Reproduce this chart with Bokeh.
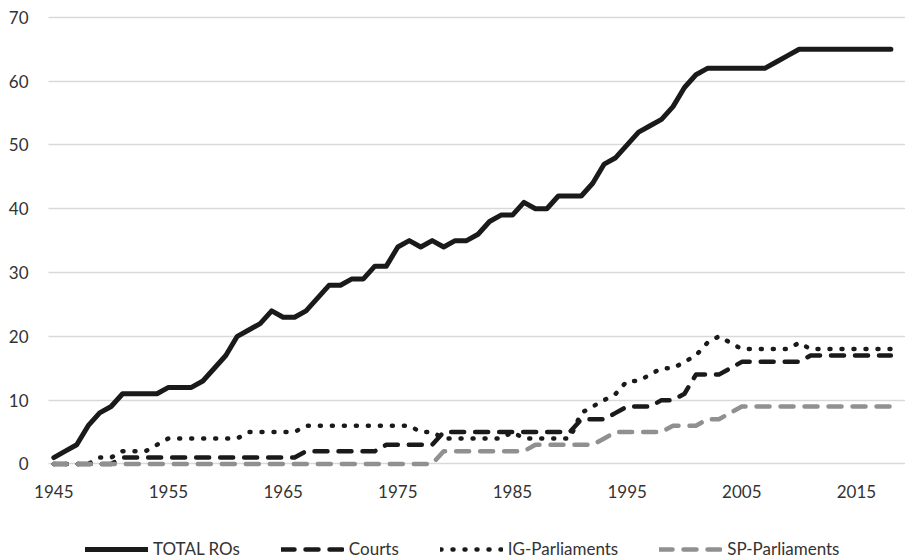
from bokeh.plotting import figure
from bokeh.models import Range1d, FixedTicker, Legend, LegendItem, BoxAnnotation
from bokeh.embed import file_html
from bokeh.resources import INLINE

years = list(range(1945, 2019))

total_ros = [1, 2, 3, 6, 8, 9, 11, 11, 11, 11,
             12, 12, 12, 13, 15, 17, 20, 21, 22, 24,
             23, 23, 24, 26, 28, 28, 29, 29, 31, 31,
             34, 35, 34, 35, 34, 35, 35, 36, 38, 39,
             39, 41, 40, 40, 42, 42, 42, 44, 47, 48,
             50, 52, 53, 54, 56, 59, 61, 62, 62, 62,
             62, 62, 62, 63, 64, 65, 65, 65, 65, 65,
             65, 65, 65, 65]

courts = [0, 0, 0, 0, 0, 0, 1, 1, 1, 1,
          1, 1, 1, 1, 1, 1, 1, 1, 1, 1,
          1, 1, 2, 2, 2, 2, 2, 2, 2, 3,
          3, 3, 3, 3, 5, 5, 5, 5, 5, 5,
          5, 5, 5, 5, 5, 5, 7, 7, 7, 8,
          9, 9, 9, 10, 10, 11, 14, 14, 14, 15,
          16, 16, 16, 16, 16, 16, 17, 17, 17, 17,
          17, 17, 17, 17]

ig_parliaments = [0, 0, 0, 0, 1, 1, 2, 2, 2, 3,
                  4, 4, 4, 4, 4, 4, 4, 5, 5, 5,
                  5, 5, 6, 6, 6, 6, 6, 6, 6, 6,
                  6, 6, 5, 5, 4, 4, 4, 4, 4, 4,
                  5, 4, 4, 4, 4, 4, 8, 9, 10, 11,
                  13, 13, 14, 15, 15, 16, 17, 19, 20, 19,
                  18, 18, 18, 18, 18, 19, 18, 18, 18, 18,
                  18, 18, 18, 18]

sp_parliaments = [0, 0, 0, 0, 0, 0, 0, 0, 0, 0,
                  0, 0, 0, 0, 0, 0, 0, 0, 0, 0,
                  0, 0, 0, 0, 0, 0, 0, 0, 0, 0,
                  0, 0, 0, 0, 2, 2, 2, 2, 2, 2,
                  2, 2, 3, 3, 3, 3, 3, 3, 4, 5,
                  5, 5, 5, 5, 6, 6, 6, 7, 7, 8,
                  9, 9, 9, 9, 9, 9, 9, 9, 9, 9,
                  9, 9, 9, 9]

x_ticks = [1945, 1955, 1965, 1975, 1985, 1995, 2005, 2015]
y_ticks = [0, 10, 20, 30, 40, 50, 60, 70]

FONT = "Lato"
TXT = "#333333"

# frame spans down to the bottom of the figure; the x axis is pinned just
# under the 0 line and the legend sits below it inside the frame
p = figure(width=905, height=558, output_backend="svg", toolbar_location=None,
           x_range=Range1d(1942.968, 2019.275), y_range=Range1d(-14.82, 70.6),
           min_border_left=30, min_border_right=0, min_border_top=13,
           min_border_bottom=0)
p.outline_line_color = None
p.background_fill_color = "white"

for ax in (p.xaxis[0], p.yaxis[0]):
    ax.axis_line_color = None
    ax.major_tick_line_color = None
    ax.minor_tick_line_color = None
    ax.major_tick_out = 0
    ax.major_tick_in = 0
    ax.minor_tick_out = 0
    ax.major_label_text_font = FONT
    ax.major_label_text_font_size = "17px"
    ax.major_label_text_color = TXT
p.xaxis.ticker = FixedTicker(ticks=x_ticks)
p.yaxis.ticker = FixedTicker(ticks=y_ticks)
p.xaxis.fixed_location = -0.6
p.xaxis.major_label_standoff = 17
p.yaxis.major_label_standoff = 2
p.xgrid.visible = False
p.ygrid.grid_line_color = "#d9d9d9"
p.ygrid.grid_line_width = 1.5

# blank strip so the gridlines start just left of the first year
p.add_layout(BoxAnnotation(right=1944.538, fill_color="white", fill_alpha=1,
                           line_color=None, level="underlay"))

r_total = p.line(years, total_ros, line_color="#1a1a1a", line_width=5,
                 line_join="round", line_cap="round")
r_courts = p.line(years, courts, line_color="#1a1a1a", line_width=4.5,
                  line_join="round", line_cap="round", line_dash="13 11")
r_ig = p.line(years, ig_parliaments, line_color="#1a1a1a", line_width=4.5,
              line_join="round", line_cap="round", line_dash="1 11")
r_sp = p.line(years, sp_parliaments, line_color="#909090", line_width=4.5,
              line_join="round", line_cap="round", line_dash="13 11")

legend = Legend(items=[
    LegendItem(label="TOTAL ROs", renderers=[r_total]),
    LegendItem(label="Courts", renderers=[r_courts]),
    LegendItem(label="IG-Parliaments", renderers=[r_ig]),
    LegendItem(label="SP-Parliaments", renderers=[r_sp]),
], location=(55, -1), orientation="horizontal", glyph_width=63,
    glyph_height=18, label_height=18, label_standoff=5, spacing=41,
    padding=0, margin=0, border_line_color=None, background_fill_alpha=0,
    label_text_font=FONT, label_text_font_size="17px", label_text_color=TXT)
p.add_layout(legend, "center")

open("out.html", "w").write(file_html(p, INLINE))
